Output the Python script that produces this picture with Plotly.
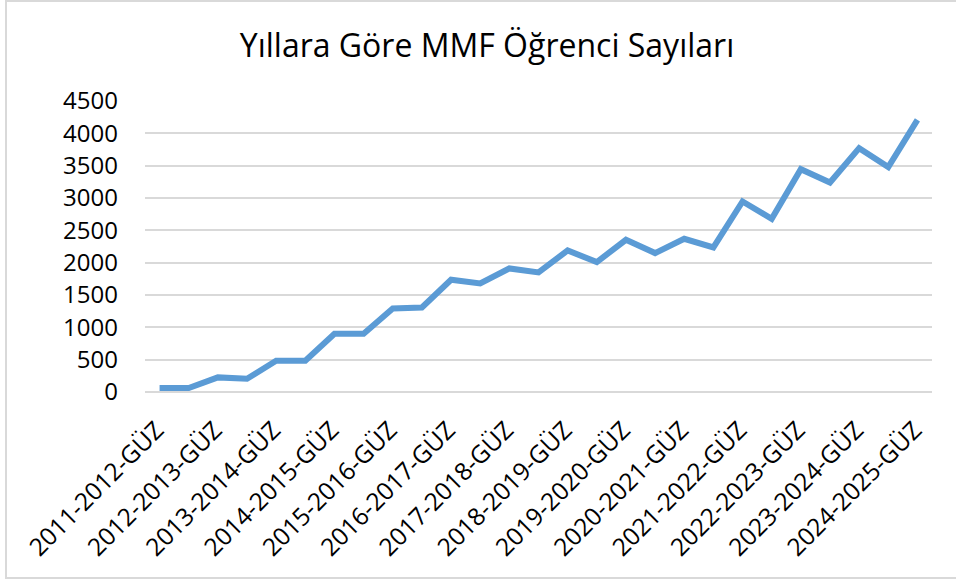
import plotly.graph_objects as go

years = ["2011-2012", "2012-2013", "2013-2014", "2014-2015", "2015-2016", "2016-2017", "2017-2018",
         "2018-2019", "2019-2020", "2020-2021", "2021-2022", "2022-2023", "2023-2024", "2024-2025"]
categories = []
for i, y in enumerate(years):
    categories.append(y + "-GÜZ")
    if i < len(years) - 1:
        categories.append(y + "-BAHAR")

values = [62, 62, 226, 205, 484, 484, 901, 901, 1292, 1308, 1736, 1679, 1911, 1849,
          2189, 2009, 2354, 2148, 2369, 2235, 2946, 2678, 3446, 3240, 3771, 3478, 4209]

tick_labels = [y + "-GÜZ" for y in years]
y_ticks = list(range(0, 4501, 500))

title_text = "Yıllara Göre MMF Öğrenci Sayıları"

W, H = 956, 580
L, R, T, B = 145, 24, 101, 188

fig = go.Figure()
fig.add_trace(go.Scatter(
    x=categories, y=values, mode="lines",
    line=dict(color="#5b9bd5", width=6),
    hoverinfo="x+y",
))

pw = W - L - R
ph = H - T - B


def px_x(p):
    return (p - L) / pw


def px_y(p):
    return (H - B - p) / ph


fig.update_layout(
    width=W, height=H,
    margin=dict(l=L, r=R, t=T, b=B, pad=0),
    paper_bgcolor="white", plot_bgcolor="white",
    showlegend=False,
    font=dict(family="Open Sans, sans-serif", color="#000000", size=24),
    title=dict(text=title_text, x=487 / W, xanchor="center",
               y=1 - 46 / H, yanchor="middle",
               font=dict(size=32, color="#000000")),
    xaxis=dict(
        type="category", categoryorder="array", categoryarray=categories,
        range=[-0.5, len(categories) - 0.5],
        tickmode="array", tickvals=tick_labels, ticktext=tick_labels,
        tickangle=-45, showgrid=False, showline=False, zeroline=False,
        ticks="", ticklabelstandoff=18, ticklabelshift=-3,
        tickfont=dict(size=24.5),
    ),
    yaxis=dict(
        range=[0, 4500], tickmode="array", tickvals=y_ticks,
        showgrid=True, gridcolor="#d9d9d9", gridwidth=2,
        zeroline=True, zerolinecolor="#d9d9d9", zerolinewidth=2,
        showline=False, ticks="", ticklabelstandoff=26,
        tickfont=dict(size=24),
    ),
    shapes=[dict(
        type="rect", xref="paper", yref="paper",
        x0=px_x(6), x1=px_x(1000), y0=px_y(578), y1=px_y(1),
        line=dict(color="#d9d9d9", width=2), fillcolor="rgba(0,0,0,0)", layer="below",
    )],
)

fig.write_html("out.html", config={"displayModeBar": False},
               post_script="document.body.style.margin='0';")
